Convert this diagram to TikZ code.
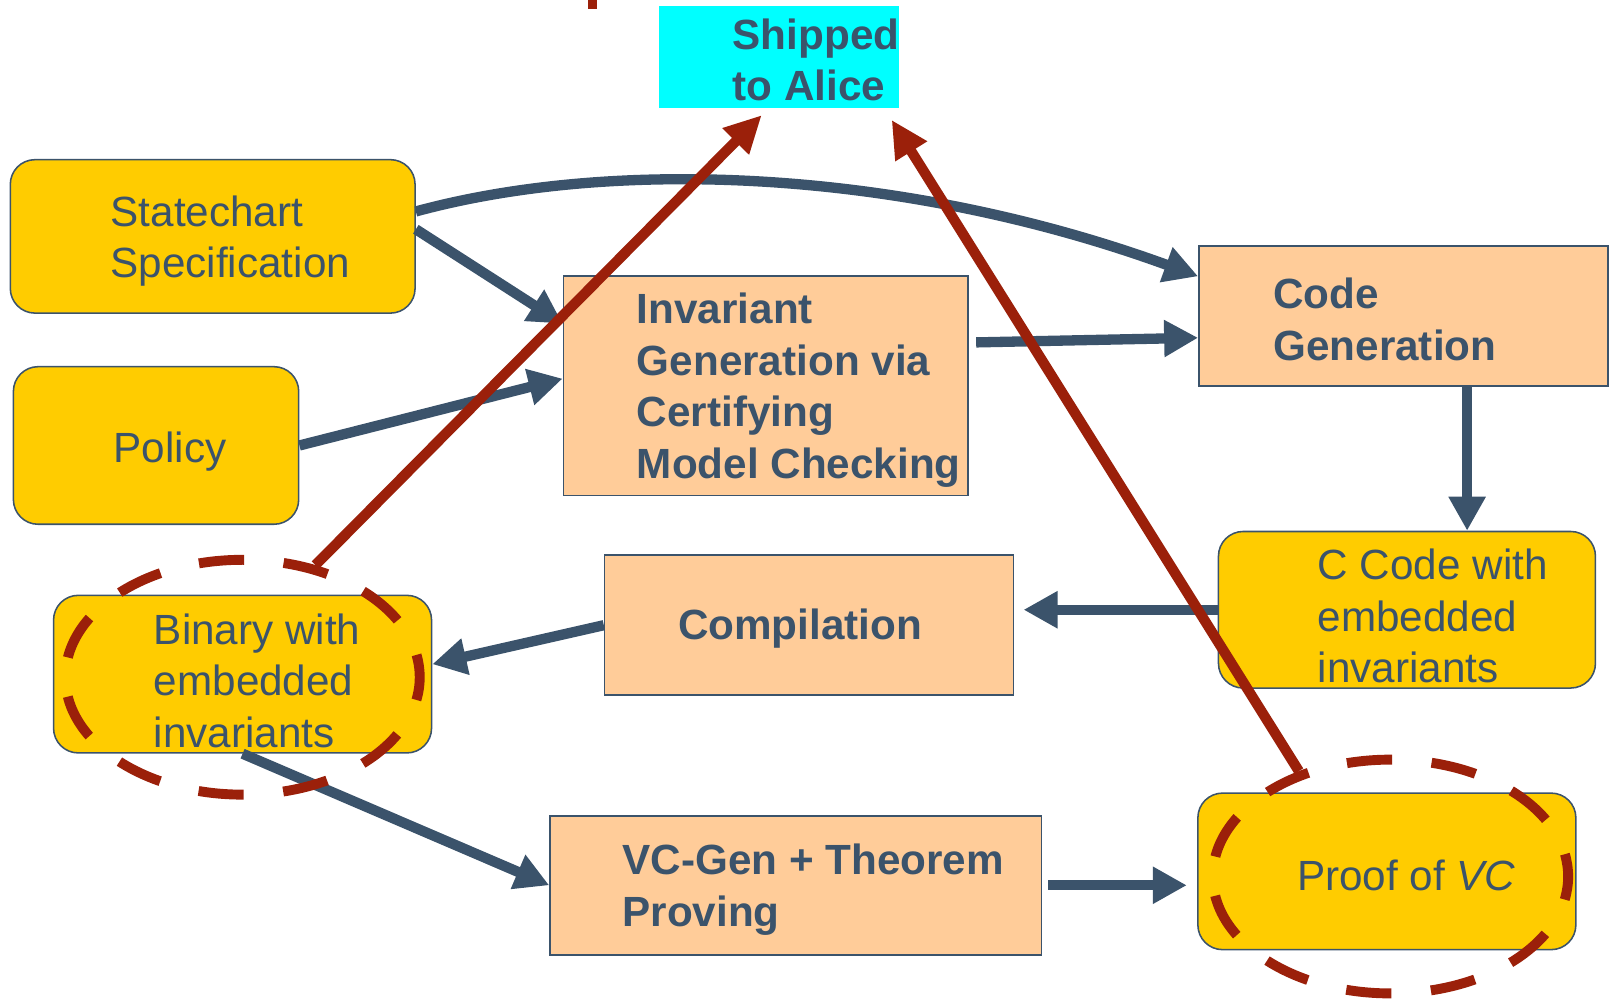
\documentclass[tikz,border=0pt]{standalone}
\usepackage{fontspec}
\setmainfont{Liberation Sans}
\usetikzlibrary{arrows.meta, shapes.geometric, calc, positioning}
\definecolor{slate}{RGB}{59,83,107}
\definecolor{rust}{RGB}{155,32,10}
\definecolor{gold}{RGB}{255,204,0}
\definecolor{peach}{RGB}{255,204,153}
\definecolor{aqua}{RGB}{0,255,255}
\tikzset{
    artBox/.style={rectangle, draw=slate, line width=0.75pt, rounded corners=12pt, fill=gold, inner sep=0pt},
    toolBox/.style={rectangle, draw=slate, line width=0.75pt, fill=peach, inner sep=0pt},
    shipBox/.style={rectangle, fill=aqua, inner sep=0pt},
    boxText/.style={anchor=west, align=left, inner sep=0pt, text=slate, font=\fontsize{20.5}{25}\selectfont},
    toolText/.style={boxText, font=\fontsize{20.5}{25}\selectfont\bfseries},
    flowEdge/.style={draw=slate, line width=5pt, -{Triangle[length=16.5pt, width=17pt]}},
    shipEdge/.style={draw=rust, line width=5pt, -{Triangle[length=18pt, width=17pt]}},
    certRing/.style={ellipse, draw=rust, line width=4.8pt, dash pattern=on 22pt off 19.25pt, dash phase=11pt, inner sep=0pt},
}
\newcommand{\flowLink}[3][]{
    \draw[flowEdge, #1] (#2) -- (#3);
}
\newcommand{\shipLink}[3][]{
    \draw[shipEdge, #1] (#2) -- (#3);
}

\begin{document}
\begin{tikzpicture}[x=0.5pt, y=-0.5pt]
    \useasboundingbox (0,0) rectangle (1568,970);

    % boxes
    \node[shipBox, minimum width=116.5pt, minimum height=49.5pt] (ship) at (756.5,55.5) {};
    \node[artBox, minimum width=196.5pt, minimum height=74.5pt] (spec) at (206.5,229.5) {};
    \node[artBox, minimum width=138.5pt, minimum height=76.5pt] (policy) at (151.5,432.5) {};
    \node[toolBox, minimum width=196.5pt, minimum height=106.5pt] (inv) at (743.5,374.5) {};
    \node[toolBox, minimum width=198.5pt, minimum height=68pt] (codegen) at (1362.5,307) {};
    \node[artBox, minimum width=183pt, minimum height=76pt] (ccode) at (1366,592) {};
    \node[toolBox, minimum width=198.5pt, minimum height=68pt] (compile) at (785.5,607) {};
    \node[artBox, minimum width=183.5pt, minimum height=76.5pt] (binary) at (235.5,654.5) {};
    \node[toolBox, minimum width=238.5pt, minimum height=67.5pt] (vcgen) at (772.5,859.5) {};
    \node[artBox, minimum width=183.5pt, minimum height=76pt] (proof) at (1346.5,846) {};

    % texts
    \node[toolText] (shipT) at (711,58) {Shipped\\to Alice};
    \node[boxText] (specT) at (107,234) {Statechart\\Specification};
    \node[boxText] (policyT) at (110,438) {Policy};
    \node[toolText] (invT) at (618,379) {Invariant\\Generation via\\Certifying\\Model Checking};
    \node[toolText] (codegenT) at (1236,310) {Code\\Generation};
    \node[boxText] (ccodeT) at (1279,598) {C Code with\\embedded\\invariants};
    \node[toolText] (compileT) at (658,610) {Compilation};
    \node[boxText] (binaryT) at (149,661) {Binary with\\embedded\\invariants};
    \node[toolText] (vcgenT) at (604,864) {VC-Gen + Theorem\\Proving};
    \node[boxText] (proofT) at (1259,850) {Proof of \textit{VC}};

    % flow
    \draw[flowEdge] (spec.7) .. controls (600,152) and (880,165) .. (codegen.169);
    \flowLink{spec.2}{inv.163}
    \flowLink{policy.east}{inv.178}
    \flowLink[shorten <=3.5pt]{inv.12}{codegen.186}
    \flowLink{codegen.-48}{codegen.-48 |- ccode.north}
    \flowLink[shorten >=4.5pt]{ccode.west}{ccode.west -| compile.east}
    \flowLink{compile.west}{binary.3}
    \flowLink{binary.south}{vcgen.west}
    \flowLink[shorten <=3pt, shorten >=5pt]{vcgen.east}{vcgen.east -| proof.west}

    % certified artefacts
    \node[certRing, minimum width=172pt, minimum height=114pt] (binRing) at (235.5,657.5) {};
    \node[certRing, minimum width=172.5pt, minimum height=113.5pt] (proofRing) at (1350,851) {};

    \shipLink[shorten >=4.5pt]{binRing.57}{ship.-102}
    \shipLink[shorten >=6.5pt]{proofRing.131}{ship.-26}

    \coordinate (stubTop) at (575,0);
    \coordinate (stubEnd) at (575,9);
    \draw[rust, line width=4.5pt] (stubTop) -- (stubEnd);
\end{tikzpicture}
\end{document}
